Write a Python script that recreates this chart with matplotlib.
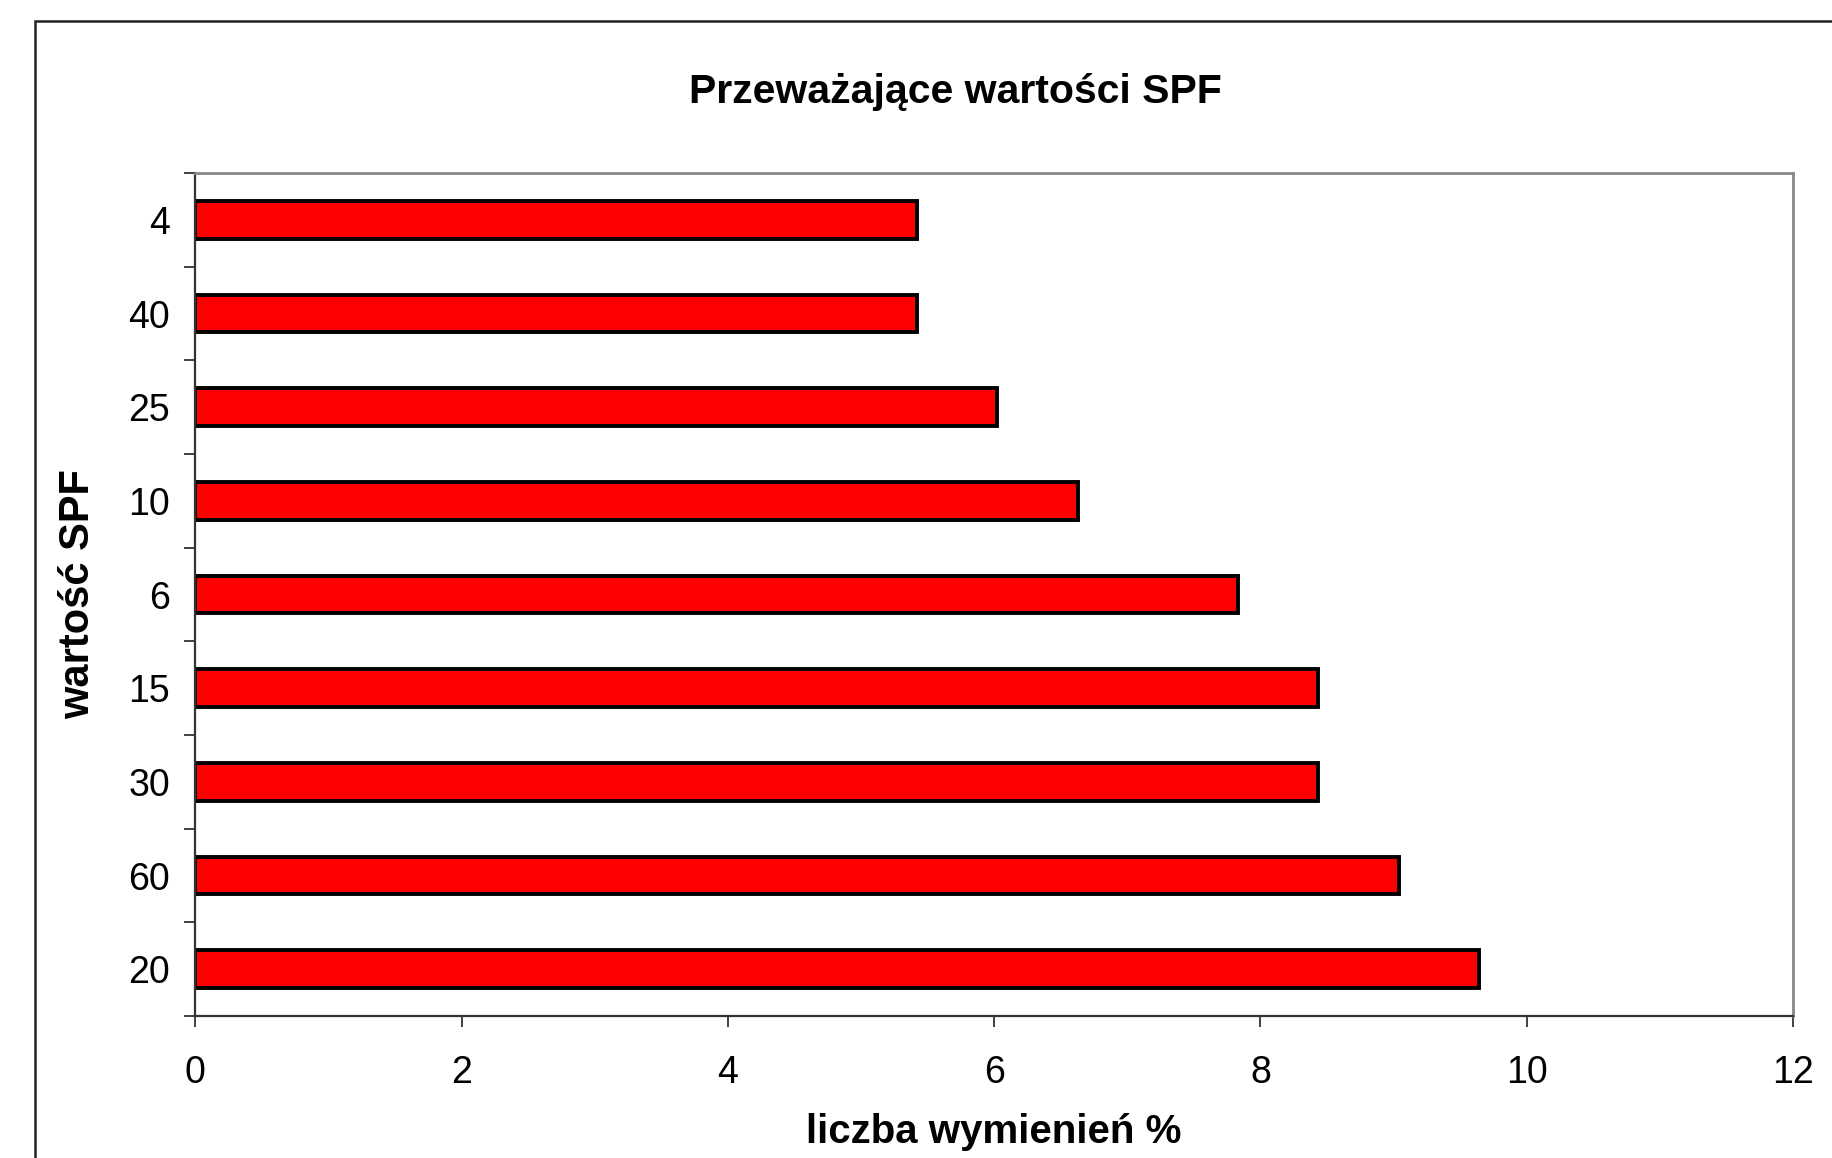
import matplotlib
matplotlib.use('Agg')
import matplotlib.pyplot as plt
from matplotlib.patches import Rectangle

# SPF values, bottom to top (Excel order)
spf = ['20', '60', '30', '15', '6', '10', '25', '40', '4']
pct = [9.64, 9.04, 8.43, 8.43, 7.83, 6.63, 6.02, 5.42, 5.42]
xticks = [0, 2, 4, 6, 8, 10, 12]

plt.rcParams['font.family'] = ['Liberation Sans', 'DejaVu Sans']

fig = plt.figure(figsize=(18.32, 11.58), dpi=100)
ax = fig.add_axes([0.1066, 0.1226, 0.9787 - 0.1066, 0.8506 - 0.1226])

# outer chart frame (runs off right and bottom edge)
fig.patches.append(Rectangle((35 / 1832, -0.1), 1.2, 1 - 21 / 1158 + 0.1,
                             transform=fig.transFigure, fill=False,
                             edgecolor='#222222', linewidth=1.8))

ypos = list(range(len(spf)))
ax.barh(ypos, pct, height=0.4, color='#ff0000', edgecolor='black', linewidth=2.8)

ax.set_xlim(0, 12)
ax.set_ylim(-0.5, len(spf) - 0.5)
ax.set_xticks(xticks)
ax.set_xticklabels([str(t) for t in xticks], fontsize=27)
ax.set_yticks(ypos)
ax.set_yticklabels(spf, fontsize=27)
ax.tick_params(axis='y', length=0, pad=18)
ax.set_yticks([i - 0.5 for i in range(len(spf) + 1)], minor=True)
ax.tick_params(axis='y', which='minor', length=8, width=1.3, color='#333333', direction='out')
ax.tick_params(axis='x', length=8, width=1.3, color='#333333', direction='out', pad=20)

for s in ['left', 'bottom']:
    ax.spines[s].set_color('#333333')
    ax.spines[s].set_linewidth(1.6)
for s in ['top', 'right']:
    ax.spines[s].set_color('#888888')
    ax.spines[s].set_linewidth(2)

ax.set_xlabel('liczba wymienień %', fontsize=29, fontweight='bold', labelpad=16)
ax.set_ylabel('wartość SPF', fontsize=30, fontweight='bold', labelpad=22)
fig.text(0.5216, 1 - 92 / 1158, 'Przeważające wartości SPF', fontsize=29.5,
         fontweight='bold', ha='center', va='center')

fig.savefig('out.png', dpi=100)
